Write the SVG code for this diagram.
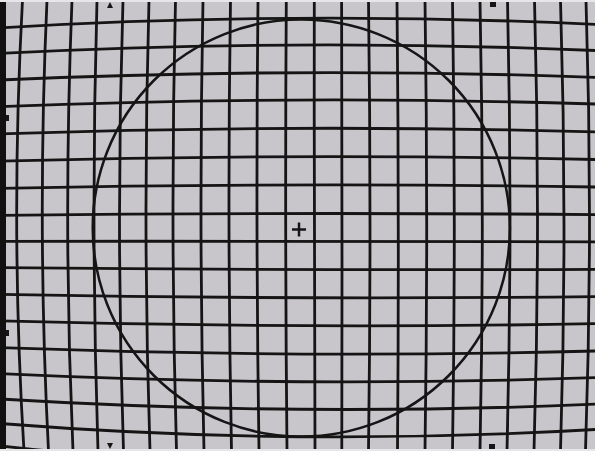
<svg xmlns="http://www.w3.org/2000/svg" width="595" height="451" viewBox="0 0 595 451">
<style>
.g{fill:none;stroke:#151515;stroke-width:2.8}
.c{fill:none;stroke:#151515;stroke-width:2.5}
.m{fill:#151515}
</style>
<rect x="0" y="0" width="595" height="451" fill="#c8c6cb"/>
<g id="grid-horizontal">
<path class="g" d="M0,27.8 Q297.5,10.55 595,24.3"/>
<path class="g" d="M0,53.4 Q297.5,38.05 595,50.5"/>
<path class="g" d="M0,80 Q297.5,66.75 595,77.3"/>
<path class="g" d="M0,106.6 Q297.5,94.7 595,104"/>
<path class="g" d="M0,133.8 Q297.5,123.8 595,131.8"/>
<path class="g" d="M0,161.1 Q297.5,153.1 595,159.5"/>
<path class="g" d="M0,188.3 Q297.5,182.35 595,187"/>
<path class="g" d="M0,215.3 Q297.5,212.05 595,214.6"/>
<path class="g" d="M0,241.3 Q297.5,241.05 595,241.8"/>
<path class="g" d="M0,267.7 Q297.5,270.5 595,269.3"/>
<path class="g" d="M0,294.4 Q297.5,299.9 595,296.6"/>
<path class="g" d="M0,320.9 Q297.5,329.1 595,323.7"/>
<path class="g" d="M0,347.6 Q297.5,358.7 595,351"/>
<path class="g" d="M0,373.6 Q297.5,387.75 595,377.7"/>
<path class="g" d="M0,399 Q297.5,417 595,404.2"/>
<path class="g" d="M0,423.5 Q297.5,446.9 595,429.5"/>
<path class="g" d="M0,445.8 Q297.5,479.35 595,453.5"/>
</g>
<g id="grid-vertical">
<path class="g" d="M22.5,0 Q10.15,225.5 24,451"/>
<path class="g" d="M47,0 Q36.85,225.5 48.5,451"/>
<path class="g" d="M72,0 Q62.9,225.5 73,451"/>
<path class="g" d="M97,0 Q90.5,225.5 98,451"/>
<path class="g" d="M123,0 Q115.75,225.5 123.5,451"/>
<path class="g" d="M149,0 Q142.5,225.5 150,451"/>
<path class="g" d="M175.5,0 Q170,225.5 176.5,451"/>
<path class="g" d="M203,0 Q198.5,225.5 204,451"/>
<path class="g" d="M230.5,0 Q227,225.5 231.5,451"/>
<path class="g" d="M258,0 Q255.5,225.5 259,451"/>
<path class="g" d="M286.3,0 Q284.75,225.5 287,451"/>
<path class="g" d="M314.3,0 Q313.95,225.5 315,451"/>
<path class="g" d="M341.6,0 Q342.3,225.5 341.8,451"/>
<path class="g" d="M368.5,0 Q371.5,225.5 368.5,451"/>
<path class="g" d="M397,0 Q399.35,225.5 397.5,451"/>
<path class="g" d="M425,0 Q428.4,225.5 425,451"/>
<path class="g" d="M452.5,0 Q456.1,225.5 452.5,451"/>
<path class="g" d="M480,0 Q484.6,225.5 480,451"/>
<path class="g" d="M507.5,0 Q512.75,225.5 507,451"/>
<path class="g" d="M534.5,0 Q540.75,225.5 534,451"/>
<path class="g" d="M560.5,0 Q567.5,225.5 560.5,451"/>
<path class="g" d="M586,0 Q593.25,225.5 585.5,451"/>
</g>
<g id="circle">
<circle class="c" cx="301.3" cy="228" r="208.6"/>
</g>
<g id="cross">
<line class="c" x1="292" y1="229.5" x2="306" y2="229.5"/>
<line class="c" x1="299" y1="222.5" x2="299" y2="236.5"/>
</g>
<g id="marks">
<polygon class="m" points="107,8 113,8 110,2"/>
<rect class="m" x="490" y="2" width="6" height="5"/>
<polygon class="m" points="107,443 113,443 110,449"/>
<rect class="m" x="489" y="444" width="6" height="5"/>
<rect class="m" x="5" y="115" width="4" height="6"/>
<rect class="m" x="5" y="330" width="4" height="6"/>
</g>
<rect x="0" y="0" width="6" height="451" fill="#111"/>
<rect x="0" y="0" width="595" height="2" fill="#e6e6e8"/>
<rect x="0" y="449" width="595" height="2" fill="#e6e6e8"/>
</svg>
